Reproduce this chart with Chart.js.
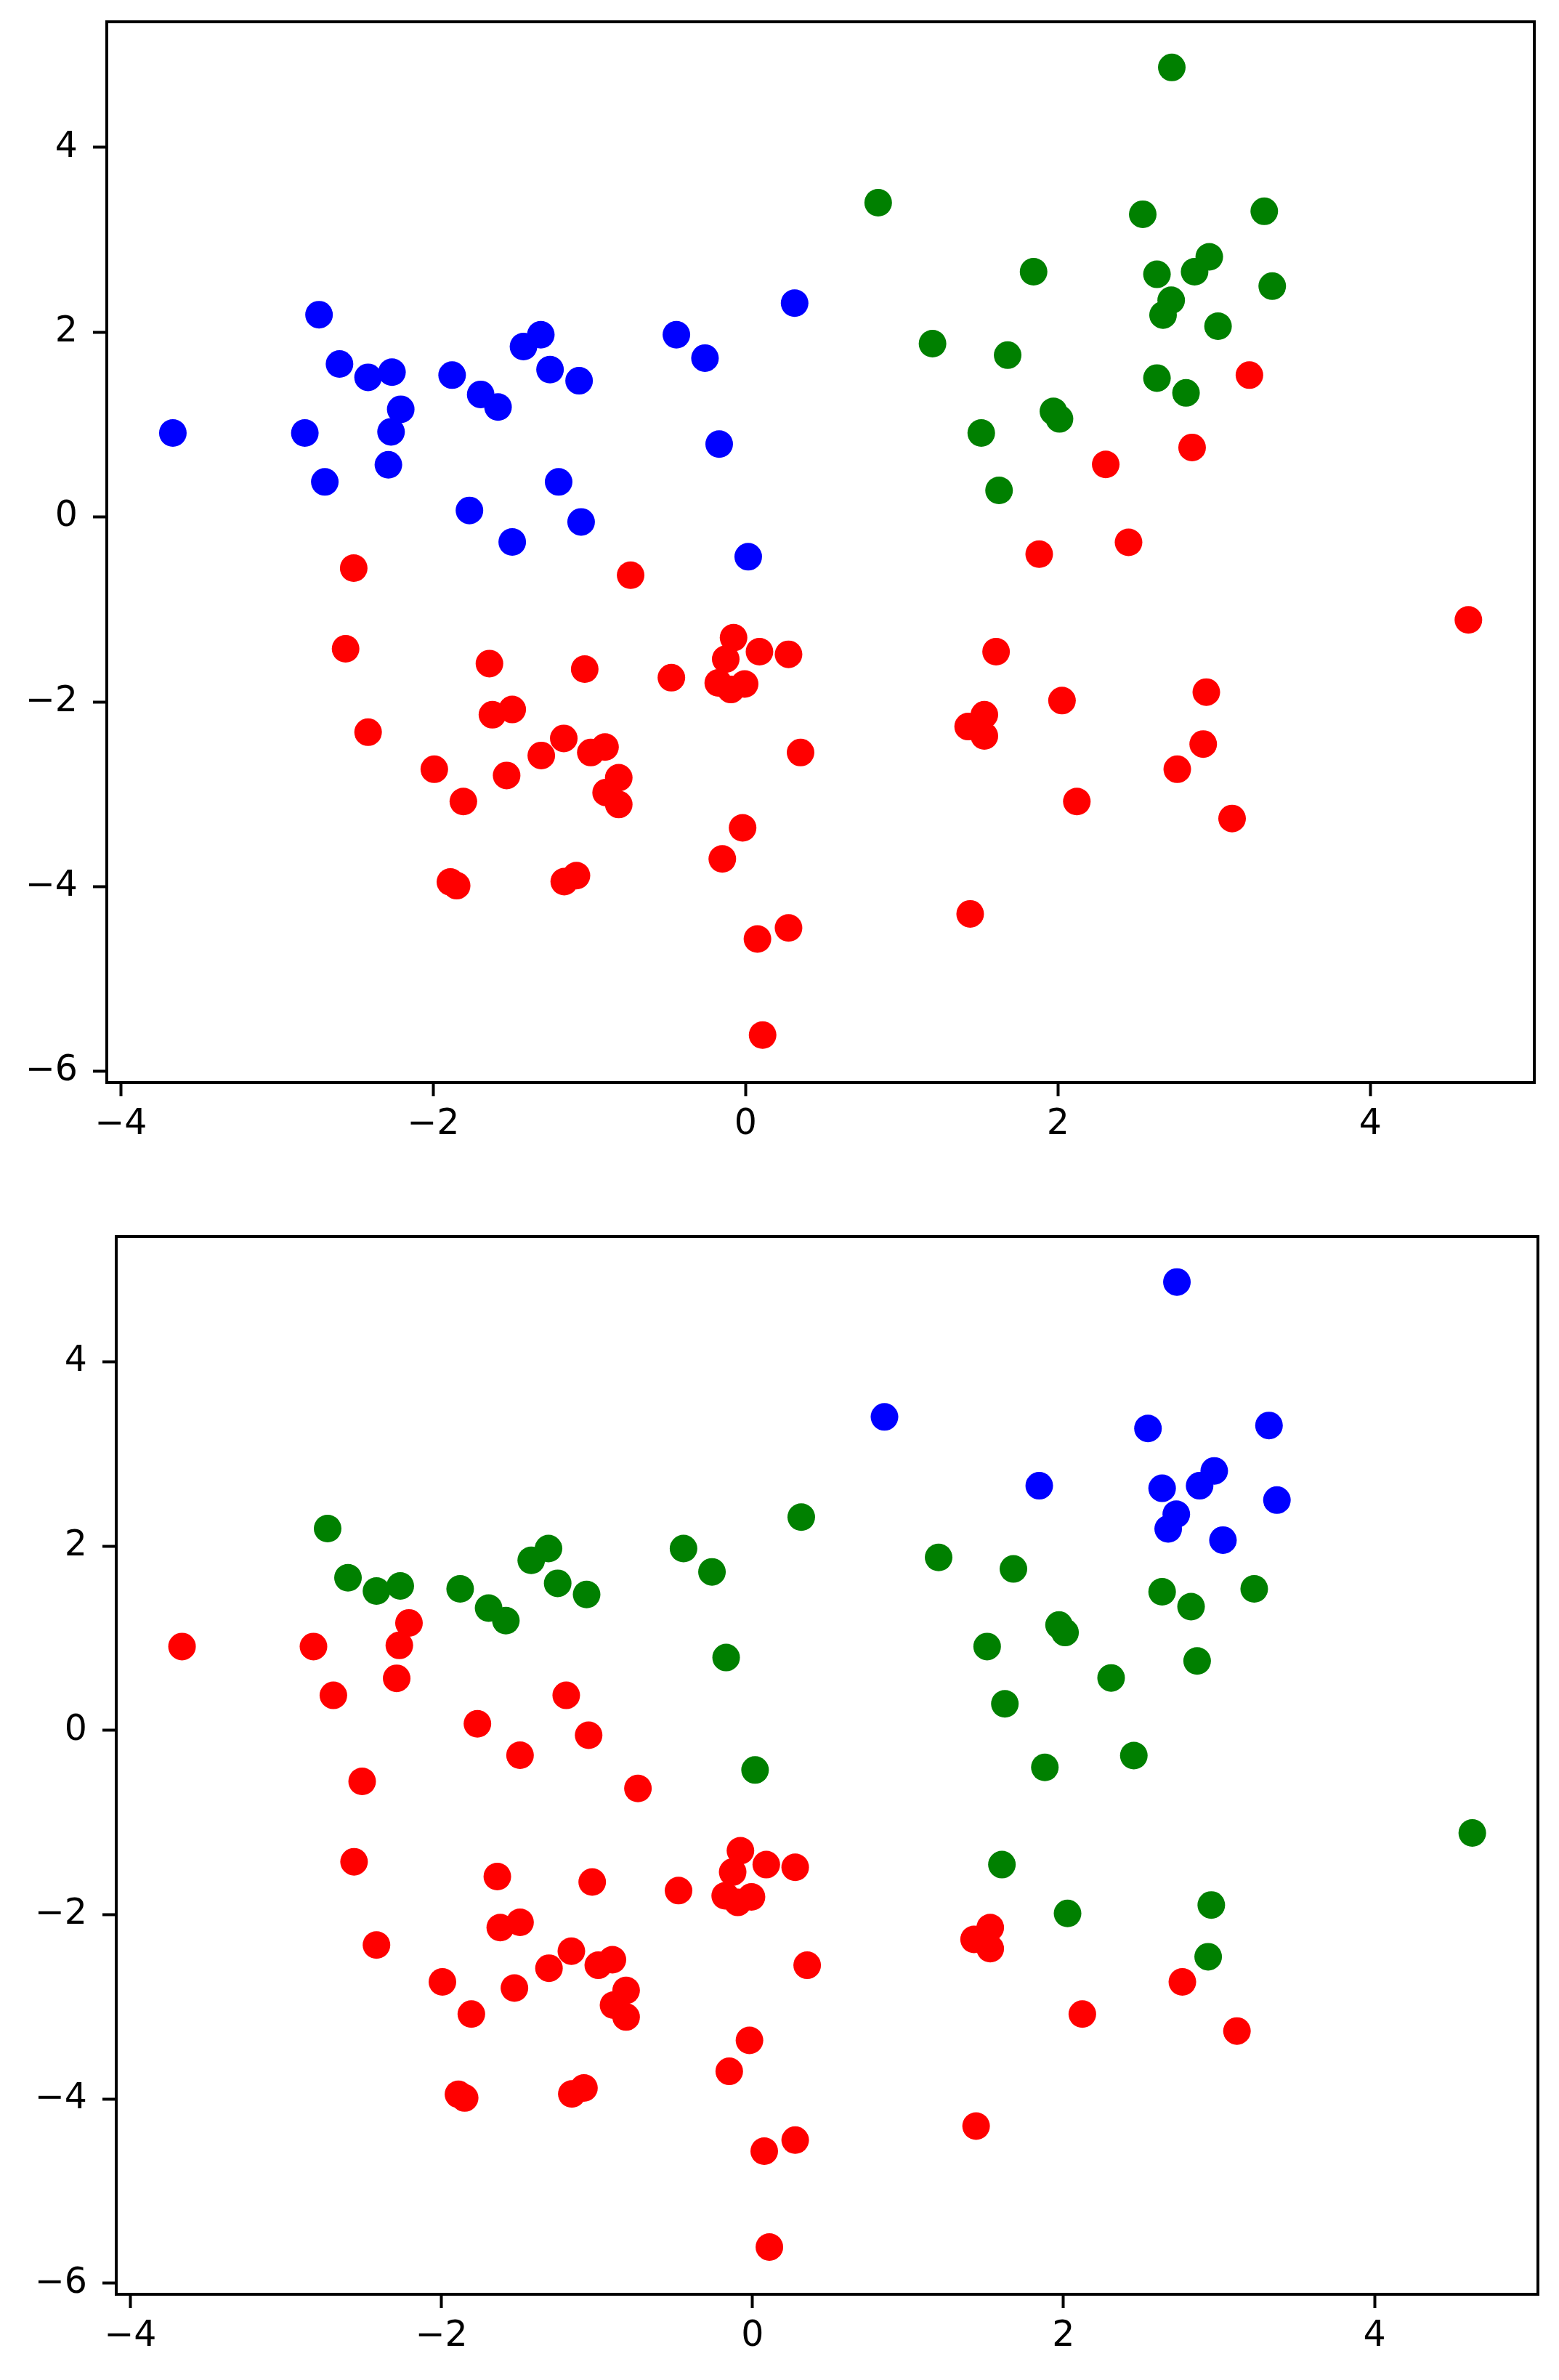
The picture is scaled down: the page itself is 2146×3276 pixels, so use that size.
<!DOCTYPE html>
<html>
<head>
<meta charset="utf-8">
<script src="https://cdn.jsdelivr.net/npm/chart.js@4.4.1/dist/chart.umd.min.js"></script>
<style>
  body { margin: 0; background: #fff; }
  canvas { position: absolute; left: 0; }
</style>
</head>
<body>
<canvas id="topChart" width="2146" height="1600" style="top:0px"></canvas>
<canvas id="bottomChart" width="2146" height="1676" style="top:1600px"></canvas>
<script>
// same 99 points in both plots, only the cluster labels differ
const xValues = [
  -3.667, -2.731, -2.600, -2.417, -2.264, -2.208, -2.270, -2.822, -2.694, -2.287,
  -1.879, -1.696, -1.585, -1.422, -1.311, -1.252, -1.066, -1.768, -1.494, -1.197,
  -1.053, -0.443, -0.260, -0.169, 0.314, 0.017,
  2.729, 0.849, 2.543, 3.321, 2.969, 2.875, 2.634, 3.372, 1.844, 2.725,
  2.673, 3.025, 1.197, 1.678, 2.634, 2.820, 1.971, 2.010, 1.509, 1.623,
  3.226, 2.859, 2.306, 1.880, 2.452, 4.628, 1.604, 2.026, 2.950, 2.930,
  1.529, 1.425, 1.529, 2.764, 2.121, 3.115, 1.438,
  -2.509, -0.736, -2.561, -1.640, -1.030, -0.475, -0.077, -0.127, 0.089, 0.275,
  -0.175, -0.094, -0.006, -2.417, -1.621, -1.494, -1.993, -1.807, -1.530, -1.308,
  -1.164, -0.991, -0.900, -0.812, -0.893, -0.812, 0.352, -0.019, -0.149, -1.890,
  -1.850, -1.161, -1.083, 0.076, 0.275, 0.109
];
const yValues = [
  0.910, 2.190, 1.656, 1.512, 1.568, 1.166, 0.922, 0.910, 0.380, 0.565,
  1.536, 1.327, 1.191, 1.845, 1.973, 1.596, 1.475, 0.071, -0.270, 0.380,
  -0.053, 1.973, 1.720, 0.790, 2.315, -0.430,
  4.866, 3.402, 3.277, 3.309, 2.816, 2.655, 2.627, 2.499, 2.655, 2.346,
  2.186, 2.065, 1.877, 1.752, 1.504, 1.343, 1.143, 1.062, 0.910, 0.288,
  1.536, 0.753, 0.569, -0.402, -0.274, -1.113, -1.457, -1.987, -1.895, -2.457,
  -2.140, -2.268, -2.369, -2.730, -3.079, -3.263, -4.295,
  -0.553, -0.630, -1.426, -1.586, -1.646, -1.739, -1.306, -1.538, -1.457, -1.486,
  -1.795, -1.867, -1.807, -2.329, -2.140, -2.083, -2.730, -3.079, -2.797, -2.581,
  -2.396, -2.549, -2.489, -2.822, -2.982, -3.111, -2.549, -3.364, -3.700, -3.950,
  -3.990, -3.946, -3.881, -4.567, -4.447, -5.607
];
// 0 = blue, 1 = green, 2 = red
const topClusters = [
  0,0,0,0,0,0,0,0,0,0, 0,0,0,0,0,0,0,0,0,0, 0,0,0,0,0,0,
  1,1,1,1,1,1,1,1,1,1, 1,1,1,1,1,1,1,1,1,1,
  2,2,2,2,2,2,2,2,2,2, 2,2,2,2,2,2,2,
  2,2,2,2,2,2,2,2,2,2, 2,2,2,2,2,2,2,2,2,2, 2,2,2,2,2,2,2,2,2,2, 2,2,2,2,2,2
];
const bottomClusters = [
  2,1,1,1,1,2,2,2,2,2, 1,1,1,1,1,1,1,2,2,2, 2,1,1,1,1,1,
  0,0,0,0,0,0,0,0,0,0, 0,0,1,1,1,1,1,1,1,1,
  1,1,1,1,1,1,1,1,1,1, 2,2,2,2,2,2,2,
  2,2,2,2,2,2,2,2,2,2, 2,2,2,2,2,2,2,2,2,2, 2,2,2,2,2,2,2,2,2,2, 2,2,2,2,2,2
];
const clusterColors = ['#0000ff', '#008000', '#ff0000'];
const xTicks = [-4, -2, 0, 2, 4];
const yTicks = [-6, -4, -2, 0, 2, 4];

// matplotlib style box around the axes
const frame = {
  id: 'frame',
  afterDraw(chart) {
    const {ctx, chartArea: a} = chart;
    ctx.save();
    ctx.strokeStyle = '#000';
    ctx.lineWidth = 4;
    ctx.strokeRect(a.left, a.top, a.right - a.left, a.bottom - a.top);
    ctx.restore();
  }
};

function axisOptions(ticks, min, max, horizontal, size, pad) {
  return {
    type: 'linear',
    min: min,
    max: max,
    afterBuildTicks: s => { s.ticks = ticks.map(v => ({value: v})); },
    afterFit: s => {
      if (horizontal) s.height = size; else s.width = size;
      // no extra room for end labels, the layout padding decides the box
      s.paddingTop = 0; s.paddingBottom = 0; s.paddingLeft = 0; s.paddingRight = 0;
    },
    grid: {drawOnChartArea: false, drawTicks: true, tickLength: 19, tickWidth: 4, tickColor: '#000'},
    border: {display: true, color: '#000', width: 4},
    ticks: {
      color: '#000',
      padding: pad,
      maxRotation: 0,
      autoSkip: false,
      font: {family: 'DejaVu Sans', size: 49},
      callback: v => String(v).replace('-', '\u2212')
    }
  };
}

function makeChart(id, clusters, padding, yWidth) {
  const datasets = clusterColors.map((color, c) => ({
    data: xValues.map((x, i) => ({x: x, y: yValues[i]})).filter((p, i) => clusters[i] === c),
    backgroundColor: color,
    borderWidth: 0,
    pointRadius: 19,
    pointHoverRadius: 19
  }));
  return new Chart(document.getElementById(id), {
    type: 'scatter',
    data: {datasets: datasets},
    options: {
      responsive: false,
      animation: false,
      devicePixelRatio: 1,
      layout: {padding: padding},
      plugins: {legend: {display: false}, tooltip: {enabled: false}},
      scales: {
        x: axisOptions(xTicks, -4.09, 5.05, true, 100, 10),
        y: axisOptions(yTicks, -6.12, 5.36, false, yWidth, 21)
      }
    },
    plugins: [frame]
  });
}

makeChart('topChart', topClusters, {top: 30, right: 34, bottom: 10, left: 0}, 147);
makeChart('bottomChart', bottomClusters, {top: 102, right: 29, bottom: 18, left: 0}, 160);
</script>
</body>
</html>
